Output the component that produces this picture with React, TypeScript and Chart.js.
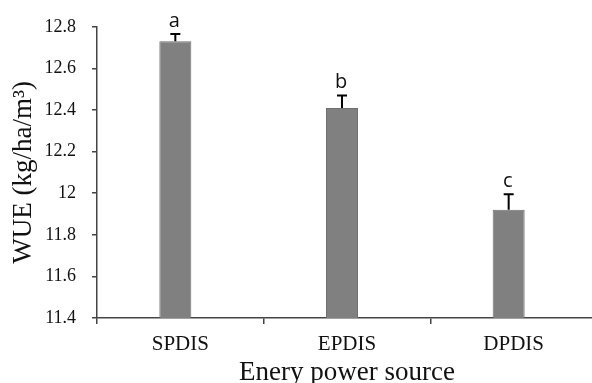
import React, { useEffect, useRef } from 'react';
import { Chart, registerables } from 'chart.js';

Chart.register(...registerables);

const categories = ['SPDIS', 'EPDIS', 'DPDIS'];
const wueValues = [12.73, 12.41, 11.92];
const wueErrors = [0.035, 0.06, 0.075];
const sigLetters = ['a', 'b', 'c'];
const yTickValues = [11.4, 11.6, 11.8, 12, 12.2, 12.4, 12.6, 12.8];

const SERIF = '"Liberation Serif", "Times New Roman", serif';

const errorBarPlugin = {
  id: 'errorBars',
  afterDatasetsDraw(chart: any) {
    const meta = chart.getDatasetMeta(0);
    const yScale = chart.scales.y;
    const ctx = chart.ctx;
    ctx.save();
    meta.data.forEach((bar: any, i: number) => {
      const x = bar.x;
      const top = yScale.getPixelForValue(wueValues[i] + wueErrors[i]);
      const base = bar.y;
      ctx.strokeStyle = '#000';
      ctx.lineWidth = 2;
      ctx.beginPath();
      ctx.moveTo(x, base);
      ctx.lineTo(x, top);
      ctx.moveTo(x - 5, top);
      ctx.lineTo(x + 5, top);
      ctx.stroke();
      ctx.fillStyle = '#111';
      ctx.font = '20px "Open Sans", "Noto Sans", sans-serif';
      ctx.textAlign = 'center';
      ctx.textBaseline = 'alphabetic';
      ctx.fillText(sigLetters[i], x - 1, top - 7);
    });
    ctx.restore();
  },
};

export default function App() {
  const ref = useRef<HTMLCanvasElement | null>(null);

  useEffect(() => {
    if (!ref.current) return;
    const chart = new Chart(ref.current, {
      type: 'bar',
      data: {
        labels: categories,
        datasets: [
          {
            data: wueValues,
            backgroundColor: '#808080',
            borderColor: '#707070',
            borderWidth: 1,
            categoryPercentage: 0.12,
            barPercentage: 3.2,
          },
          {
            data: categories.map(() => null),
            categoryPercentage: 0.12,
            barPercentage: 3.2,
          },
        ],
      },
      options: {
        responsive: false,
        animation: false,
        layout: { padding: { top: 22, right: 3, left: 0, bottom: 0 } },
        plugins: {
          legend: { display: false },
          tooltip: { enabled: false },
        },
        scales: {
          x: {
            grid: {
              display: true,
              drawOnChartArea: false,
              drawTicks: true,
              tickLength: 6,
              color: '#444',
              lineWidth: 1.5,
              offset: true,
            },
            border: { display: true, color: '#444', width: 1.5 },
            ticks: {
              color: '#111',
              font: { family: SERIF, size: 21 },
              padding: 8,
            },
            title: {
              display: true,
              text: 'Enery power source',
              color: '#111',
              font: { family: SERIF, size: 27, lineHeight: 1 },
              padding: { top: 0, bottom: 9 },
            },
            afterFit: (scale: any) => {
              scale.height = 395 - 318;
            },
          },
          y: {
            min: 11.4,
            max: 12.8,
            grid: {
              display: true,
              drawOnChartArea: false,
              drawTicks: true,
              tickLength: 5,
              color: '#444',
              lineWidth: 1.5,
            },
            border: { display: true, color: '#444', width: 1.5 },
            ticks: {
              color: '#111',
              font: { family: SERIF, size: 18 },
              padding: 16,
              callback: (v: any) => String(v),
            },
            afterBuildTicks: (scale: any) => {
              scale.ticks = yTickValues.map((v) => ({ value: v }));
            },
            title: {
              display: true,
              text: 'WUE (kg/ha/m³)',
              color: '#111',
              font: { family: SERIF, size: 27, lineHeight: 1 },
              padding: { top: 10, bottom: 0 },
            },
            afterFit: (scale: any) => {
              scale.width = 97;
            },
          },
        },
      },
      plugins: [errorBarPlugin],
    });
    return () => chart.destroy();
  }, []);

  return (
    <div
      style={{
        position: 'absolute',
        left: 0,
        top: 0,
        width: 592,
        height: 383,
        overflow: 'hidden',
        background: '#fff',
      }}
    >
      <canvas ref={ref} width={600} height={395} style={{ display: 'block' }} />
    </div>
  );
}
